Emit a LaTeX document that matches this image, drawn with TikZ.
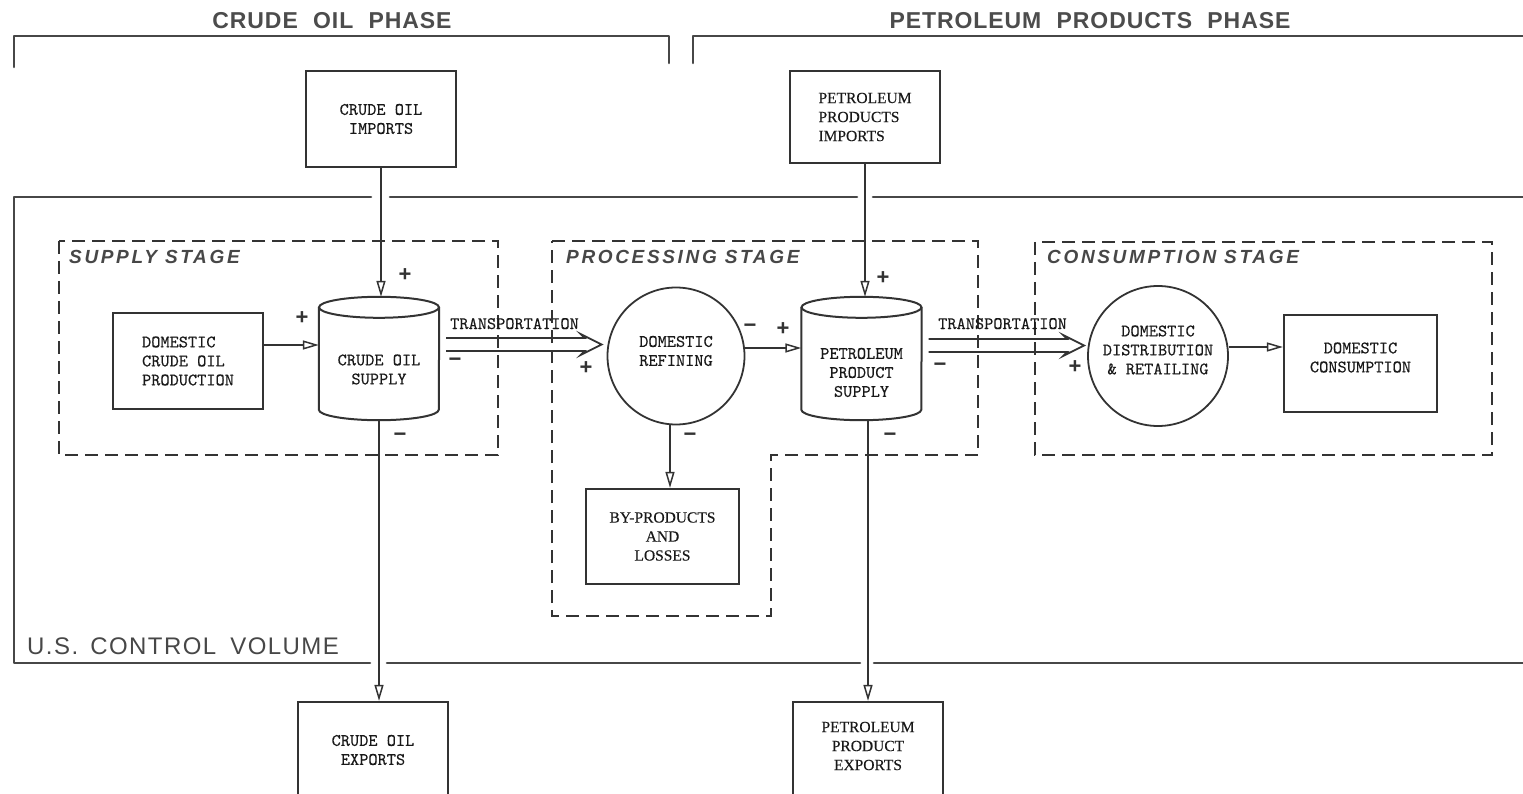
\documentclass[tikz,border=0pt]{standalone}
\usepackage{fontspec}
\setmainfont{Liberation Serif}[FakeBold=0.3]
\setmonofont{lmmono10-regular.otf}[FakeBold=0.3]
\newfontfamily\headfont[LetterSpace=4]{Liberation Sans}
\newfontfamily\stagefont[LetterSpace=14]{Liberation Sans}
\newfontfamily\cvfont[LetterSpace=6]{Liberation Sans}
\newfontfamily\signfont{Liberation Sans}
\usetikzlibrary{arrows.meta,calc}
\tikzset{
  frame/.style={line width=2.6pt, draw=black!72, line cap=round, line join=round},
  boxline/.style={line width=2pt, draw=black!80},
  typeface/.style={font=\ttfamily\fontsize{17.5}{19}\selectfont, text=black!90},
  box/.style={rectangle, draw=black!80, line width=2.2pt, inner sep=0pt, align=center, typeface},
  serifbox/.style={box, font=\rmfamily\fontsize{15.5}{19}\selectfont},
  circ/.style={circle, draw=black!80, line width=1.8pt, inner sep=0pt},
  cyl/.style={rectangle, minimum width=120pt, minimum height=123pt, inner sep=0pt},
  intxt/.style={align=center, typeface},
  stage/.style={draw=black!80, line width=1.8pt, dash pattern=on 13pt off 7pt},
  arr/.style={draw=black!80, line width=1.5pt, -{Triangle[open,length=16pt,width=9pt]}},
  tline/.style={draw=black!80, line width=1.8pt, line join=miter},
  sign/.style={font=\signfont\bfseries\fontsize{22}{22}\selectfont, text=black!80, inner sep=0pt},
  phase/.style={font=\headfont\bfseries\fontsize{23}{23}\selectfont, text=black!70},
  stagelbl/.style={font=\stagefont\bfseries\itshape\fontsize{19}{19}\selectfont, text=black!72, anchor=base west, inner sep=0pt},
  cvlbl/.style={font=\cvfont\fontsize{24}{24}\selectfont, text=black!72, anchor=base west, inner sep=0pt},
  translbl/.style={typeface, anchor=base west, inner sep=0pt}
}
\newcommand\drawcyl[1]{%
  \draw[boxline] ($(#1.north west)+(0,10.5)$) -- ($(#1.south west)+(0,-10.5)$)
     arc[start angle=180, end angle=360, x radius=60pt, y radius=10.5pt]
     -- ($(#1.north east)+(0,10.5)$);
  \draw[boxline] ($(#1.north)+(0,10.5)$) ellipse[x radius=60pt, y radius=10.5pt];}
\begin{document}
\begin{tikzpicture}[x=1pt, y=-1pt]
\useasboundingbox (0,0) rectangle (1523,794);
\clip (0,0) rectangle (1523,794);
% phase brackets
\node[phase] (ph1) at (332,21) {CRUDE\hspace{8pt} OIL\hspace{8pt} PHASE};
\node[phase] (ph2) at (1090,21) {PETROLEUM\hspace{8pt} PRODUCTS\hspace{8pt} PHASE};
\draw[frame] (14,67) -- (14,36) -- (669,36) -- (669,63);
\draw[frame] (693,63) -- (693,36) -- (1530,36);
% control volume
\draw[frame] (1530,197) -- (873,197);
\draw[frame] (857,197) -- (390,197);
\draw[frame] (371,197) -- (14,197) -- (14,663) -- (370,663);
\draw[frame] (387,663) -- (860,663);
\draw[frame] (874,663) -- (1530,663);
\node[cvlbl] (cv) at (27,654) {U.S.\hspace{4pt} CONTROL\hspace{6pt} VOLUME};
% stages
\draw[stage] (59,241) rectangle (498,455);
\draw[stage] (552,241) -- (978,241) -- (978,455) -- (771,455) -- (771,616) -- (552,616) -- cycle;
\draw[stage] (1035,242) rectangle (1492,455);
\node[stagelbl] (st1) at (69,264) {SUPPLY STAGE};
\node[stagelbl] (st2) at (566,264) {PROCESSING STAGE};
\node[stagelbl] (st3) at (1047,264) {CONSUMPTION STAGE};
% nodes
\node[box, minimum width=150pt, minimum height=96pt] (cimp) at (381,119) {CRUDE OIL\\IMPORTS};
\node[serifbox, align=left, minimum width=150pt, minimum height=92pt] (pimp) at (865,117) {PETROLEUM\\PRODUCTS\\IMPORTS};
\node[box, align=left, minimum width=150pt, minimum height=96pt] (prod) at (188,361) {DOMESTIC\\CRUDE OIL\\PRODUCTION};
\node[cyl, label={[intxt, yshift=-11pt]center:CRUDE OIL\\SUPPLY}] (cs) at (379,358.5) {};
\drawcyl{cs}
\node[circ, minimum size=137pt, label={[intxt, yshift=5pt]center:DOMESTIC\\REFINING}] (ref) at (676,356) {};
\node[cyl, label={[intxt, yshift=-14pt]center:PETROLEUM\\PRODUCT\\SUPPLY}] (ps) at (861.5,358.5) {};
\drawcyl{ps}
\node[serifbox, minimum width=153pt, minimum height=95pt] (byp) at (662.5,536.5) {BY-PRODUCTS\\AND\\LOSSES};
\node[circ, minimum size=140pt, label={[intxt, yshift=6pt]center:DOMESTIC\\DISTRIBUTION\\\& RETAILING}] (dist) at (1158,356) {};
\node[box, minimum width=153pt, minimum height=97pt, label={[intxt, yshift=6pt]center:DOMESTIC\\CONSUMPTION}] (cons) at (1360.5,363.5) {};
\node[box, minimum width=150pt, minimum height=96pt] (cexp) at (373,750) {CRUDE OIL\\EXPORTS};
\node[serifbox, minimum width=150pt, minimum height=96pt, label={[intxt, font=\rmfamily\fontsize{15.5}{19}\selectfont, yshift=4pt]center:PETROLEUM\\PRODUCT\\EXPORTS}] (pexp) at (868,750) {};
% connectors
\coordinate (rowA) at (0,345);
\coordinate (rowB) at (0,348);
\coordinate (rowC) at (0,347);
\coordinate (rowT1) at (0,344.5);
\coordinate (rowT2) at (0,345.5);
\coordinate (colB) at (670,0);
\draw[arr] (prod.east |- rowA) -- (cs.west |- rowA);
\draw[arr] (cimp.south) -- (cimp.south |- cs.north);
\draw[arr] (pimp.south) -- (pimp.south |- ps.north);
\draw[arr] (cs.south) -- (cs.south |- cexp.north);
\draw[arr] (pexp.north |- ps.south) -- (pexp.north);
\draw[arr] (ref.south -| colB) -- (byp.north -| colB);
\draw[arr] (ref.east |- rowB) -- (ps.west |- rowB);
\draw[arr] (dist.east |- rowC) -- (cons.west |- rowC);
% transportation arrows
\coordinate (t1s) at ($(cs.east |- rowT1)+(7,0)$);
\coordinate (t1e) at ($(ref.west |- rowT1)+(-5,0)$);
\draw[tline] ($(t1s)+(0,-6.5)$) -- ($(t1e)+(-17,-6.5)$) -- ($(t1e)+(-21,-10.5)$) -- (t1e)
   -- ($(t1e)+(-21,10.5)$) -- ($(t1e)+(-17,6.5)$) -- ($(t1s)+(0,6.5)$);
\coordinate (t2s) at ($(ps.east |- rowT2)+(7,0)$);
\coordinate (t2e) at ($(dist.west |- rowT2)+(-3,0)$);
\draw[tline] ($(t2s)+(0,-6.5)$) -- ($(t2e)+(-17,-6.5)$) -- ($(t2e)+(-21,-10.5)$) -- (t2e)
   -- ($(t2e)+(-21,10.5)$) -- ($(t2e)+(-17,6.5)$) -- ($(t2s)+(0,6.5)$);
\node[translbl] (tr1) at (450,329) {TRANSPORTATION};
\node[translbl] (tr2) at (938,329) {TRANSPORTATION};
% signs
\node[sign] (p1) at (302,318) {+};
\node[sign] (p2) at (405,275) {+};
\node[sign] (m1) at (455,362) {−};
\node[sign] (m2) at (400,437) {−};
\node[sign] (p3) at (586,368) {+};
\node[sign] (m3) at (750,328) {−};
\node[sign] (p4) at (783,329) {+};
\node[sign] (p5) at (883,278) {+};
\node[sign] (m4) at (690,437) {−};
\node[sign] (m5) at (890,437) {−};
\node[sign] (m6) at (940,367) {−};
\node[sign] (p6) at (1075,367) {+};
\end{tikzpicture}
\end{document}
